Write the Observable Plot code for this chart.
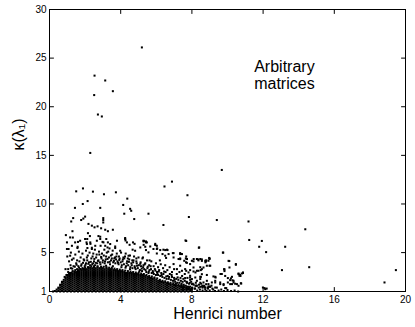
<!DOCTYPE html>
<html><head><meta charset="utf-8">
<script src="https://cdn.jsdelivr.net/npm/d3@7"></script>
<script src="https://cdn.jsdelivr.net/npm/@observablehq/plot@0.6"></script>
<style>body{margin:0;background:#fff}</style>
</head><body><div id="chart"></div>
<script>
// Axis ticks
const xTicks = [0, 4, 8, 12, 16, 20];
const yTicks = [1, 5, 10, 15, 20, 25, 30];
const xDomain = [0, 20];
const yDomain = [1, 30];

// Dense core (saturated black region): Henrici number columns and kappa values in each
const coreX = [0.2,0.3,0.4,0.5,0.6,0.7,0.8,0.9,1.0,1.1,1.2,1.3,1.4,1.5,1.6,1.7,1.8,1.9,2.0,2.1,2.2,2.3,2.4,2.5,2.6,2.7,2.8,2.9,3.0,3.1,3.2,3.3,3.4,3.5,3.6,3.7,3.8,3.9,4.0,4.1,4.2,4.3,4.4,4.5,4.6,4.7,4.8,4.9,5.0,5.1,5.2,5.3,5.4,5.5,5.6,5.7,5.8,5.9,6.0,6.1,6.2,6.3,6.4,6.5,6.6,6.7,6.8,6.9,7.0,7.1,7.2,7.3,7.4,7.5,7.6,7.7,7.8,7.9,8.0];
const coreK = [
"1","1.05","1 1.2","1.1 1.3 1.4","1 1.2 1.4 1.6 1.7","1.1 1.3 1.5 1.7 1.9 2","1 1.2 1.4 1.6 1.8 2 2.2","1.1 1.3 1.5 1.7 1.9 2.1 2.3 2.45",
"1 1.2 1.4 1.6 1.8 2 2.2 2.4 2.6","1.1 1.3 1.5 1.7 1.9 2.1 2.3 2.5 2.7","1 1.2 1.4 1.6 1.8 2 2.2 2.4 2.6 2.8","1.1 1.3 1.5 1.7 1.9 2.1 2.3 2.5 2.7 2.85",
"1 1.2 1.4 1.6 1.8 2 2.2 2.4 2.6 2.8 2.95","1.1 1.3 1.5 1.7 1.9 2.1 2.3 2.5 2.7 2.9 3","1 1.2 1.4 1.6 1.8 2 2.2 2.4 2.6 2.8 3 3.1","1.1 1.3 1.5 1.7 1.9 2.1 2.3 2.5 2.7 2.9 3.1",
"1 1.2 1.4 1.6 1.8 2 2.2 2.4 2.6 2.8 3 3.2","1.1 1.3 1.5 1.7 1.9 2.1 2.3 2.5 2.7 2.9 3.1 3.25","1 1.2 1.4 1.6 1.8 2 2.2 2.4 2.6 2.8 3 3.2 3.3","1.1 1.3 1.5 1.7 1.9 2.1 2.3 2.5 2.7 2.9 3.1 3.3",
"1 1.2 1.4 1.6 1.8 2 2.2 2.4 2.6 2.8 3 3.2 3.4","1.1 1.3 1.5 1.7 1.9 2.1 2.3 2.5 2.7 2.9 3.1 3.3 3.45","1 1.2 1.4 1.6 1.8 2 2.2 2.4 2.6 2.8 3 3.2 3.4","1.1 1.3 1.5 1.7 1.9 2.1 2.3 2.5 2.7 2.9 3.1 3.3 3.5",
"1 1.2 1.4 1.6 1.8 2 2.2 2.4 2.6 2.8 3 3.2 3.4","1.1 1.3 1.5 1.7 1.9 2.1 2.3 2.5 2.7 2.9 3.1 3.3 3.5","1 1.2 1.4 1.6 1.8 2 2.2 2.4 2.6 2.8 3 3.2 3.4","1.1 1.3 1.5 1.7 1.9 2.1 2.3 2.5 2.7 2.9 3.1 3.3 3.45",
"1 1.2 1.4 1.6 1.8 2 2.2 2.4 2.6 2.8 3 3.2 3.4","1.1 1.3 1.5 1.7 1.9 2.1 2.3 2.5 2.7 2.9 3.1 3.3","1 1.2 1.4 1.6 1.8 2 2.2 2.4 2.6 2.8 3 3.2 3.4","1.1 1.3 1.5 1.7 1.9 2.1 2.3 2.5 2.7 2.9 3.1 3.3",
"1 1.2 1.4 1.6 1.8 2 2.2 2.4 2.6 2.8 3 3.2 3.3","1.1 1.3 1.5 1.7 1.9 2.1 2.3 2.5 2.7 2.9 3.1 3.3","1 1.2 1.4 1.6 1.8 2 2.2 2.4 2.6 2.8 3 3.2","1.1 1.3 1.5 1.7 1.9 2.1 2.3 2.5 2.7 2.9 3.1 3.2",
"1 1.2 1.4 1.6 1.8 2 2.2 2.4 2.6 2.8 3 3.15","1.1 1.3 1.5 1.7 1.9 2.1 2.3 2.5 2.7 2.9 3.1","1 1.2 1.4 1.6 1.8 2 2.2 2.4 2.6 2.8 3 3.1","1.1 1.3 1.5 1.7 1.9 2.1 2.3 2.5 2.7 2.9 3.05",
"1 1.2 1.4 1.6 1.8 2 2.2 2.4 2.6 2.8 3","1.1 1.3 1.5 1.7 1.9 2.1 2.3 2.5 2.7 2.9","1 1.2 1.4 1.6 1.8 2 2.2 2.4 2.6 2.8 2.95","1.1 1.3 1.5 1.7 1.9 2.1 2.3 2.5 2.7 2.9",
"1 1.2 1.4 1.6 1.8 2 2.2 2.4 2.6 2.8 2.9","1.1 1.3 1.5 1.7 1.9 2.1 2.3 2.5 2.7 2.85","1 1.2 1.4 1.6 1.8 2 2.2 2.4 2.6 2.8","1.1 1.3 1.5 1.7 1.9 2.1 2.3 2.5 2.7 2.8",
"1 1.2 1.4 1.6 1.8 2 2.2 2.4 2.6 2.75","1.1 1.3 1.5 1.7 1.9 2.1 2.3 2.5 2.7","1 1.2 1.4 1.6 1.8 2 2.2 2.4 2.6 2.7","1.1 1.3 1.5 1.7 1.9 2.1 2.3 2.5 2.65",
"1 1.2 1.4 1.6 1.8 2 2.2 2.4 2.6","1.1 1.3 1.5 1.7 1.9 2.1 2.3 2.5","1 1.2 1.4 1.6 1.8 2 2.2 2.4 2.45","1.1 1.3 1.5 1.7 1.9 2.1 2.3 2.4",
"1 1.2 1.4 1.6 1.8 2 2.2 2.35","1.1 1.3 1.5 1.7 1.9 2.1 2.3","1 1.2 1.4 1.6 1.8 2 2.2","1.1 1.3 1.5 1.7 1.9 2.1",
"1 1.2 1.4 1.6 1.8 2 2.05","1.1 1.3 1.5 1.7 1.9 2","1 1.2 1.4 1.6 1.8 1.95","1.1 1.3 1.5 1.7 1.9",
"1 1.2 1.4 1.6 1.8 1.85","1.1 1.3 1.5 1.7 1.8","1 1.2 1.4 1.6 1.75","1.1 1.3 1.5 1.7",
"1 1.2 1.4 1.6 1.7","1.1 1.3 1.5 1.65","1 1.2 1.4 1.6","1.1 1.3 1.5 1.55",
"1 1.2 1.4 1.5","1.1 1.3 1.45","1 1.2 1.4","1.1 1.3 1.35","1 1.2 1.3","1.1 1.25","1 1.2"
];

// Speckled fringe just above the dense core
const fringe = [
[0.85,2.5],[0.95,2.7],[1.05,3.0],[0.9,3.3],[1.15,2.9],[1.2,3.4],[1.3,3.1],[1.35,3.6],[1.45,3.2],[1.5,3.9],[1.55,3.3],[1.62,3.6],[1.68,4.1],[1.72,3.3],[1.8,3.8],[1.85,3.4],[1.92,4.3],[1.98,3.6],[2.05,3.9],[2.1,4.5],[2.15,3.5],[2.22,4.0],[2.28,3.7],[2.35,4.4],[2.4,3.8],[2.46,4.9],[2.5,4.1],[2.56,3.7],[2.62,4.5],[2.68,3.9],[2.75,4.2],[2.8,4.8],[2.86,3.8],[2.92,4.4],[2.98,4.0],[3.05,4.7],[3.1,3.9],[3.16,4.3],[3.22,5.0],[3.28,4.0],[3.34,4.5],[3.4,3.8],[3.46,4.2],[3.52,4.8],[3.58,4.0],[3.64,4.4],[3.7,3.9],[3.76,4.6],[3.82,4.1],[3.88,3.8],[3.94,4.4],[4.0,4.0],[4.06,3.7],[4.12,4.3],[4.18,3.8],[4.24,4.6],[4.3,3.6],[4.36,4.1],[4.42,3.7],[4.48,4.3],[4.54,3.5],[4.6,3.9],[4.66,3.4],[4.72,4.2],[4.78,3.6],[4.84,3.3],[4.9,3.9],[4.96,3.4],[5.02,3.7],[5.08,3.2],[5.14,3.6],[5.2,3.1],[5.26,3.5],[5.32,3.3],[5.38,3.9],[5.44,3.0],[5.5,3.4],[5.56,2.9],[5.62,3.2],[5.68,3.6],[5.74,2.9],[5.8,3.1],[5.86,2.8],[5.92,3.3],[5.98,2.7],[6.04,3.0],[6.1,2.7],[6.16,3.2],[6.22,2.6],[6.28,2.9],[6.34,2.5],[6.4,2.8],[6.46,2.4],[6.52,3.0],[6.58,2.3],[6.64,2.6],[6.7,2.3],[6.76,2.8],[6.82,2.2],[6.88,2.5],[6.94,2.1],[7.0,2.4],[7.06,2.0],[7.12,2.3],[7.18,1.9],[7.24,2.2],[7.3,1.9],[7.36,2.4],[7.42,1.8],[7.48,2.0],[7.54,1.7],[7.6,2.1],[7.66,1.6],[7.72,1.9],[7.78,1.5],[7.84,1.8],[7.9,1.5],[7.96,2.0],[8.02,1.4],[8.1,1.7],[8.18,1.3],[8.25,1.6],[8.3,1.1],[8.38,1.4],[8.45,1.2],[8.52,1.8],[8.6,1.1],[8.68,1.5],[8.75,1.2],[8.82,1.05],[8.9,1.3],[9.0,1.1],[9.1,1.6],[9.2,1.2],[9.3,1.05],[9.4,1.4],[9.5,1.1],[9.65,1.2],[9.8,1.05],[10.0,1.15],[10.2,1.05],[10.4,1.1],[10.6,1.0],
[1.0,2.7],[1.1,2.85],[1.25,2.95],[1.4,3.05],[1.6,3.2],[1.75,3.3],[1.9,3.35],[2.0,3.45],[2.2,3.5],[2.35,3.6],[2.5,3.6],[2.7,3.6],[2.9,3.55],[3.05,3.55],[3.2,3.5],[3.35,3.45],[3.5,3.45],[3.65,3.35],[3.8,3.3],[3.95,3.25],[4.1,3.2],[4.25,3.15],[4.4,3.1],[4.55,3.05],[4.7,3.0],[4.85,2.95],[5.0,2.9],[5.15,2.85],[5.3,2.8],[5.45,2.7],[5.6,2.6],[5.75,2.55],[5.9,2.45],[6.05,2.35],[6.2,2.2],[6.35,2.1],[6.5,2.05],[6.65,1.95],[6.8,1.9],[6.95,1.85],[7.1,1.8],[7.25,1.7],[7.4,1.65],[7.55,1.55],[7.7,1.45],[7.85,1.4],[8.0,1.35],[8.15,1.3],
[1.0,4.6],[1.1,4.1],[1.2,5.0],[1.35,4.4],[1.45,4.8],[1.55,4.2],[1.65,5.1],[1.75,4.5],[1.85,4.9],[1.95,4.2],[2.05,5.2],[2.15,4.7],[2.25,5.0],[2.42,4.6],[2.55,5.3],[2.65,4.8],[2.78,5.1],[2.95,4.9],[3.08,5.3],[3.18,4.6],[3.3,5.1],[3.45,4.7],[3.55,5.2],[3.68,4.5],[3.78,4.9],[3.9,4.6],[4.02,5.0],[4.15,4.5],[4.28,4.9],[4.4,4.4],[4.52,4.7],[4.65,4.2],[4.75,4.6],[4.88,4.1],[5.0,4.5],[5.12,4.0],[5.22,4.4],[5.35,3.8],[5.48,4.2],[5.6,3.7],[5.72,4.1],[5.85,3.6],[5.98,3.9],[6.1,3.5],[6.25,3.8],[6.38,3.4],[6.5,3.7],[6.62,3.2],[6.75,3.5],[6.88,3.0],[7.0,3.3],[7.15,2.8],[7.3,3.0],[7.45,2.6],[7.6,2.8],[7.75,2.4],[7.9,2.2],
[1.05,3.3],[1.18,3.7],[1.28,3.35],[1.42,3.55],[1.52,3.75],[1.66,3.45],[1.78,3.65],[1.88,3.95],[2.02,3.75],[2.12,4.2],[2.18,3.85],[2.32,4.05],[2.45,3.9],[2.52,4.35],[2.6,3.95],[2.72,4.15],[2.83,4.0],[2.9,4.55],[3.0,4.2],[3.12,4.1],[3.18,3.65],[3.26,4.35],[3.38,4.05],[3.5,4.4],[3.56,3.6],[3.62,4.15],[3.74,4.3],[3.85,3.95],[3.92,4.25],[4.04,3.5],[4.1,4.1],[4.2,4.4],[4.27,3.45],[4.34,3.9],[4.46,4.05],[4.52,3.3],[4.62,3.7],[4.7,4.0],[4.8,3.45],[4.92,3.65],[5.04,3.05],[5.1,3.85],[5.18,3.35],[5.28,3.7],[5.4,3.2],[5.52,3.55],[5.58,3.05],[5.7,3.3],[5.82,2.95],[5.95,3.15],[6.06,2.8],[6.14,3.05],[6.3,2.7],[6.44,3.05],[6.56,2.55],[6.72,2.5],[6.86,2.7],[7.02,2.2],[7.2,2.45],[7.38,2.1],[7.52,2.3],[7.7,2.0],[7.88,1.9],[8.05,1.8],[8.22,1.9],[8.4,1.7],[8.6,1.6],[8.8,1.75],[9.0,1.5],[9.15,1.3]
];

// Scattered halo points
const halo = [
[0.92,6.8],[1.29,7.2],[1.31,6.55],[1.6,6.1],[1.58,5.6],[0.98,5.37],[1.16,4.68],[1.26,4.27],[2.16,7.0],[2.27,6.7],[2.12,6.4],[2.08,6.05],[2.3,5.9],[2.38,5.5],[2.75,6.7],[2.85,6.4],[2.98,6.1],[2.87,5.7],[3.13,5.7],[3.28,6.05],[3.37,5.43],[3.69,5.63],[4.25,6.5],[4.27,6.25],[4.5,5.8],[4.78,5.9],[4.67,5.3],[5.3,6.2],[5.42,6.05],[5.38,5.6],[5.66,5.63],[5.94,5.9],[6.05,5.43],[6.35,4.85],[6.4,5.3],[6.6,5.3],[6.97,4.95],[7.34,4.95],[7.34,4.4],[7.64,6.25],[7.72,4.34],[8.1,4.34],[6.55,4.45],[6.2,4.2],[4.44,4.68],[4.88,4.4],[5.25,4.5],[5.62,4.2],
[0.98,6.05],[1.16,6.56],[1.07,5.37],[1.26,5.7],[1.44,6.05],[1.72,6.22],[1.57,5.47],[2.0,6.4],[2.1,5.88],[2.29,6.05],[2.13,5.47],[2.38,5.37],[2.57,5.7],[2.66,6.22],[2.85,6.63],[3.03,6.05],[3.19,6.4],[3.26,5.53],[3.41,5.88],[3.69,5.47],[3.79,6.22],[3.97,5.19],[4.25,6.4],[4.35,6.05],[4.69,6.05],[4.81,5.19],[5.1,5.53],[5.28,6.22],[5.47,6.05],[5.56,5.02],[5.84,5.37],[6.03,5.7],[6.22,5.26],[6.5,4.68],[6.69,4.85],[6.97,4.5],[7.25,4.34],[7.44,4.85],[7.72,4.34],[8.0,4.16],[8.28,4.34],[8.47,4.34],[8.75,4.16],[8.93,4.16],
[5.29,6.15],[5.42,6.15],[5.29,5.8],[5.42,5.26],[5.94,5.78],[6.03,5.37],[6.03,4.91],[6.5,5.26],[6.63,5.26],[7.34,4.85],[7.34,4.33],[7.68,4.6],[8.09,3.47],[8.56,3.3],[8.65,3.47],[8.84,3.65],[8.2,2.96],[8.37,3.13],[8.56,2.78],[7.57,4.16],[7.9,3.82],[8.09,4.1],[6.97,3.82],[7.16,3.3],[7.34,3.65],[7.44,3.13],[7.62,3.3],[7.81,2.96],[7.9,2.62],[8.0,2.28],[8.28,2.1],[8.47,2.28],[8.65,1.93],[8.84,2.1],[8.93,1.76],[9.12,1.93],[8.2,1.59],[8.47,1.48],[8.75,1.41],[9.03,1.48],[9.31,1.41],
[7.68,6.2],[8.39,5.5],[9.74,5.0],[6.93,4.95],[7.67,4.0],[8.37,4.2],[8.56,4.15],[8.76,4.0],[8.99,4.34],[9.03,3.65],[10.06,4.15],[10.11,3.47],[10.47,3.82],[9.68,2.8],[9.83,3.1],[10.62,2.85],[10.7,2.7],[10.8,2.85],[9.33,2.44],[9.59,1.93],[9.78,1.66],[10.15,2.17],[10.34,1.93],[10.15,1.76],[10.53,1.76],[11.99,1.41],[12.12,1.24],
[8.41,5.53],[9.76,5.0],[7.66,4.4],[7.72,3.95],[8.34,4.3],[8.79,4.1],[8.99,4.4],[10.1,4.13],[9.83,3.27],[9.61,2.8],[9.31,2.51],[9.31,1.93],[10.02,2.38],[10.25,2.51],[10.34,2.1],[10.62,2.79],[10.67,2.62],[10.87,2.96],[10.77,1.82],[10.62,1.59],[10.25,1.76],[9.78,1.76],[9.93,1.35],
[7.68,3.13],[7.9,3.2],[8.09,3.06],[8.28,3.13],[8.5,3.2],[8.47,2.51],[8.19,2.44],[7.9,2.44],[7.62,2.38],[7.72,1.93],[8.0,1.76],[8.28,1.59],[8.56,1.52],[8.69,1.59],[8.93,1.52],[7.43,1.59],[7.72,1.24],[7.49,1.14],
[8.56,4.3],[8.8,4.2],[8.97,4.45],[8.99,3.65],[8.47,3.5],[8.84,2.7],[8.5,2.5],[9.21,2.55],[9.31,2.1],[9.81,3.3],[10.47,3.75],[9.63,2.8],[9.87,2.6],[10.19,2.35],[10.28,2.15],[10.02,1.93],[10.43,1.8],[10.73,2.6],[10.87,2.9],[10.75,1.85],[9.59,1.76],[9.87,1.35],[8.6,1.4],[8.75,1.4],[8.9,1.4],[8.47,1.9]
];

// Isolated outliers
const outliers = [
[5.19,26.1],[2.53,23.2],[3.13,22.7],[3.56,21.6],[2.51,21.2],[2.72,19.2],[2.94,19.0],[2.29,15.25],[9.68,13.5],
[1.5,11.3],[1.88,11.6],[2.44,11.27],[3.06,11.0],[3.73,11.2],[6.46,11.8],[6.88,12.3],[7.75,10.9],
[1.43,9.6],[1.87,10.0],[2.14,10.3],[2.85,9.6],[4.14,9.9],[4.37,10.55],[4.53,9.5],[4.59,9.3],[4.2,9.0],[4.76,8.45],[5.56,9.0],[7.83,8.66],[6.4,7.84],
[1.22,8.2],[1.33,8.55],[1.78,8.35],[1.9,8.5],[2.0,8.7],[3.02,8.55],[3.02,8.35],[3.02,8.1],[2.19,7.95],[2.38,7.77],[2.53,7.6],[2.7,7.7],[2.9,7.5],[3.13,7.35],[3.28,7.2],[3.56,7.35],
[9.4,8.35],[11.18,8.2],[11.22,6.3],[11.93,6.2],[11.78,5.6],[12.17,5.05],[14.37,7.4],[13.24,5.6],[13.06,3.2],[14.59,3.5],[19.46,3.2],[18.82,1.93],[12.08,1.35],[12.2,1.3]
];

// Annotation and axis labels
const noteText = ["Arbitrary\nmatrices"];
const noteX = [11.5];
const noteY = [24.75];
const xLabel = "Henrici number";
const yLabel = "κ(λ₁)";

const points = [
  ...coreX.flatMap((h, i) => coreK[i].split(" ").map(Number).map(k => ({h, k}))),
  ...fringe.map(([h, k]) => ({h, k})),
  ...halo.map(([h, k]) => ({h, k})),
  ...outliers.map(([h, k]) => ({h, k}))
];

const tickShape = {draw(context, l) { context.moveTo(0, 0); context.lineTo(0, -l); }};
const tk = {length: 4, anchor: "start", shape: tickShape, stroke: "black", strokeWidth: 1};

const chart = Plot.plot({
  width: 415, height: 327,
  marginTop: 9, marginBottom: 36, marginLeft: 49, marginRight: 10,
  style: {fontFamily: "'Liberation Sans', Arial, Helvetica, sans-serif", background: "white", color: "black"},
  x: {domain: xDomain},
  y: {domain: yDomain},
  marks: [
    Plot.dot(points, {x: "h", y: "k", r: 1.15, symbol: "square", fill: "black", stroke: null}),
    Plot.frame({stroke: "black"}),
    Plot.vector(xTicks, {...tk, x: d => d, y: yDomain[0], rotate: 0}),
    Plot.vector(xTicks, {...tk, x: d => d, y: yDomain[1], rotate: 180}),
    Plot.vector(yTicks, {...tk, y: d => d, x: xDomain[0], rotate: 90}),
    Plot.vector(yTicks, {...tk, y: d => d, x: xDomain[1], rotate: 270}),
    Plot.axisX(xTicks, {tickSize: 0, tickPadding: 4, fontSize: 10, label: null}),
    Plot.axisY(yTicks, {tickSize: 0, tickPadding: 3, fontSize: 10, label: null}),
    Plot.text(noteText, {x: noteX, y: noteY, text: d => d, fontSize: 16, textAnchor: "start", lineAnchor: "top", lineHeight: 1.05}),
    Plot.text([xLabel], {frameAnchor: "bottom", dy: 22, fontSize: 16, lineAnchor: "middle"}),
    Plot.text([yLabel], {frameAnchor: "left", dx: -31, rotate: -90, fontSize: 16, lineAnchor: "middle"})
  ]
});
document.getElementById("chart").append(chart);
</script>
</body></html>
